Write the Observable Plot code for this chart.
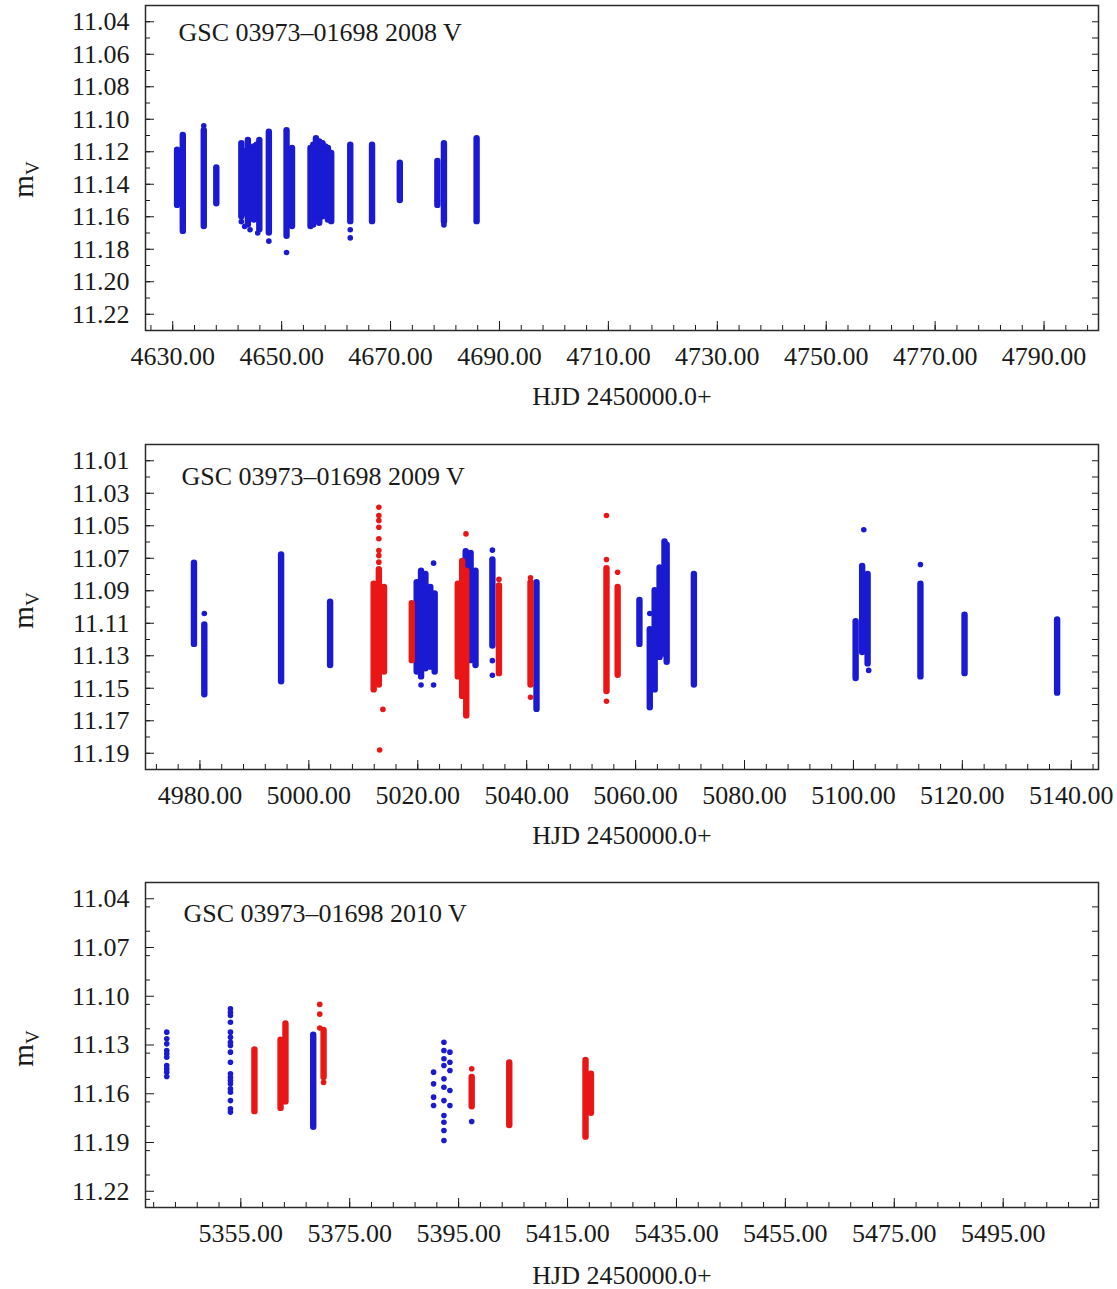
<!DOCTYPE html>
<html>
<head>
<meta charset="utf-8">
<script src="https://cdn.jsdelivr.net/npm/d3@7"></script>
<script src="https://cdn.jsdelivr.net/npm/@observablehq/plot@0.6"></script>
<style>
  body { margin: 0; background: #fff; }
  #chart { width: 1117px; }
  #chart svg { display: block; }
</style>
</head>
<body>
<div id="chart"></div>
<script>
// ---------------------------------------------------------------
// GSC 03973-01698, V-band light curves for three seasons.
// Dense nightly runs are stored as [brightest, faintest] magnitude
// spans per night; isolated measurements are stored as single points.
// ---------------------------------------------------------------

// ----- 2008 season (one instrument) -----
const hjd2008    = [4630.8, 4631.85, 4635.7, 4638.0, 4642.6, 4643.2, 4643.8, 4644.4, 4644.9, 4645.4, 4645.9, 4647.65, 4650.9, 4651.9, 4655.3, 4655.8, 4656.3, 4656.9, 4657.5, 4658.0, 4658.5, 4659.1, 4662.6, 4666.6, 4671.7, 4678.6, 4679.8, 4685.8];
const bright2008 = [11.119, 11.110, 11.107, 11.130, 11.115, 11.120, 11.113, 11.118, 11.117, 11.116, 11.113, 11.108, 11.107, 11.118, 11.118, 11.116, 11.112, 11.114, 11.115, 11.117, 11.118, 11.121, 11.116, 11.116, 11.127, 11.126, 11.115, 11.112];
const faint2008  = [11.153, 11.169, 11.166, 11.152, 11.160, 11.158, 11.165, 11.160, 11.162, 11.158, 11.168, 11.170, 11.172, 11.166, 11.166, 11.165, 11.162, 11.164, 11.160, 11.158, 11.162, 11.163, 11.163, 11.163, 11.150, 11.153, 11.163, 11.163];
const dots2008   = [[4635.7, 11.104], [4642.6, 11.163], [4643.2, 11.166], [4644.2, 11.168], [4645.6, 11.170], [4647.65, 11.175], [4650.9, 11.182], [4662.6, 11.168], [4662.6, 11.173], [4678.6, 11.150], [4679.8, 11.165]];

// ----- 2009 season (two instruments) -----
const hjdBlue2009    = [4978.9, 4980.8, 4994.9, 5003.9, 5019.8, 5020.6, 5021.4, 5022.3, 5023.1, 5028.8, 5029.7, 5030.6, 5033.7, 5041.8, 5060.7, 5062.6, 5063.5, 5064.4, 5065.3, 5065.7, 5070.7, 5100.4, 5101.6, 5102.6, 5112.3, 5120.4, 5137.4];
const brightBlue2009 = [11.073, 11.111, 11.068, 11.097, 11.085, 11.078, 11.080, 11.088, 11.092, 11.066, 11.067, 11.078, 11.071, 11.085, 11.096, 11.114, 11.090, 11.076, 11.060, 11.062, 11.080, 11.109, 11.075, 11.080, 11.086, 11.105, 11.108];
const faintBlue2009  = [11.123, 11.154, 11.146, 11.136, 11.140, 11.143, 11.138, 11.137, 11.140, 11.137, 11.133, 11.136, 11.124, 11.163, 11.123, 11.162, 11.151, 11.131, 11.129, 11.134, 11.148, 11.144, 11.128, 11.135, 11.143, 11.141, 11.153];
const dotsBlue2009   = [[4980.8, 11.104], [5020.6, 11.148], [5022.9, 11.148], [5022.9, 11.073], [5033.7, 11.065], [5033.7, 11.133], [5033.7, 11.142], [5062.6, 11.104], [5101.9, 11.0525], [5102.8, 11.139], [5112.3, 11.0738]];

const hjdRed2009    = [5011.9, 5012.85, 5013.8, 5018.9, 5027.35, 5028.15, 5028.9, 5034.9, 5040.7, 5054.65, 5056.7];
const brightRed2009 = [11.086, 11.077, 11.088, 11.098, 11.086, 11.072, 11.078, 11.087, 11.085, 11.0765, 11.088];
const faintRed2009  = [11.151, 11.148, 11.140, 11.133, 11.143, 11.155, 11.167, 11.141, 11.148, 11.152, 11.142];
const dotsRed2009   = [[5012.85, 11.0386], [5012.85, 11.0437], [5012.85, 11.0468], [5012.85, 11.0509], [5012.85, 11.058], [5012.85, 11.0652], [5012.85, 11.0683], [5012.85, 11.0724], [5013.6, 11.163], [5013.0, 11.188], [5028.85, 11.055], [5034.9, 11.083], [5040.7, 11.082], [5040.7, 11.1555], [5054.65, 11.0437], [5054.65, 11.0708], [5054.65, 11.158], [5056.7, 11.0786]];

// ----- 2010 season (two instruments) -----
const hjdBlue2010    = [5368.3];
const brightBlue2010 = [11.124];
const faintBlue2010  = [11.1806];
const dotsBlue2010   = [
  [5341.4, 11.1221], [5341.4, 11.1262], [5341.4, 11.1293], [5341.4, 11.1334], [5341.4, 11.1354], [5341.4, 11.1375], [5341.4, 11.1426], [5341.4, 11.1447], [5341.4, 11.1467], [5341.4, 11.1494],
  [5353.1, 11.1077], [5353.1, 11.1098], [5353.1, 11.1118], [5353.1, 11.1160], [5353.1, 11.1221], [5353.1, 11.1252], [5353.1, 11.1283], [5353.1, 11.1303], [5353.1, 11.1344], [5353.1, 11.1406],
  [5353.1, 11.1477], [5353.1, 11.1498], [5353.1, 11.1518], [5353.1, 11.1539], [5353.1, 11.1570], [5353.1, 11.1590], [5353.1, 11.1642], [5353.1, 11.1692], [5353.1, 11.1713],
  [5390.4, 11.1467], [5390.4, 11.1539], [5390.4, 11.1621], [5390.4, 11.1672],
  [5392.3, 11.1283], [5392.3, 11.1334], [5392.3, 11.1385], [5392.3, 11.1426], [5392.3, 11.1508], [5392.3, 11.1560], [5392.3, 11.1642], [5392.3, 11.1734], [5392.3, 11.1775], [5392.3, 11.1826], [5392.3, 11.1888],
  [5393.4, 11.1344], [5393.4, 11.1406], [5393.4, 11.1457], [5393.4, 11.1580], [5393.4, 11.1672],
  [5397.4, 11.1771]
];
const hjdRed2010    = [5357.5, 5362.3, 5363.2, 5370.2, 5397.4, 5404.3, 5418.3, 5419.3];
const brightRed2010 = [11.133, 11.127, 11.117, 11.121, 11.150, 11.141, 11.1395, 11.148];
const faintRed2010  = [11.171, 11.169, 11.165, 11.150, 11.168, 11.1795, 11.1867, 11.172];
const dotsRed2010   = [[5369.5, 11.105], [5369.5, 11.111], [5369.5, 11.1195], [5370.2, 11.153], [5397.4, 11.1446]];

// ----- axes -----
const xTicks2008 = [4630, 4650, 4670, 4690, 4710, 4730, 4750, 4770, 4790];
const xTicks2009 = [4980, 5000, 5020, 5040, 5060, 5080, 5100, 5120, 5140];
const xTicks2010 = [5355, 5375, 5395, 5415, 5435, 5455, 5475, 5495];
const yTicks2008 = [11.04, 11.06, 11.08, 11.10, 11.12, 11.14, 11.16, 11.18, 11.20, 11.22];
const yTicks2009 = [11.01, 11.03, 11.05, 11.07, 11.09, 11.11, 11.13, 11.15, 11.17, 11.19];
const yTicks2010 = [11.04, 11.07, 11.10, 11.13, 11.16, 11.19, 11.22];

const titles = ["GSC 03973\u201301698 2008 V", "GSC 03973\u201301698 2009 V", "GSC 03973\u201301698 2010 V"];
const xLabel = "HJD 2450000.0+";

const BLUE = "#1a1ad2";
const RED = "#ea1616";
const INK = "#1a1a1a";
const FONT = "'Liberation Serif', 'Times New Roman', serif";

const spans = (h, b, f) => h.map((t, i) => ({hjd: t, bright: b[i], faint: f[i]}));
const points = (list) => list.map(([t, m]) => ({hjd: t, mag: m}));

function panel(o) {
  const W = 1117, mL = 145, mR = 19, mT = 5, frameH = 325;
  const mB = o.height - mT - frameH;
  const plotW = W - mL - mR;
  const fmt = d3.format(".2f");
  const xMinor = d3.range(o.xMinorStart, o.xDomain[1], 4);
  const yMinor = d3.range(Math.round(o.yDomain[0] * 1000), Math.round(o.yDomain[1] * 1000) + 1, o.yMinorStep * 1000).map(v => v / 1000);

  const layers = [];
  for (const s of o.series) {
    layers.push(Plot.ruleX(s.spans, {x: "hjd", y1: "bright", y2: "faint", stroke: s.color, strokeWidth: 6.4, strokeLinecap: "round"}));
    layers.push(Plot.dot(s.points, {x: "hjd", y: "mag", r: 2.8, fill: s.color, stroke: "none"}));
  }

  const svg = Plot.plot({
    width: W, height: o.height,
    marginLeft: mL, marginRight: mR, marginTop: mT, marginBottom: mB,
    style: {fontFamily: FONT, fontSize: "26px", color: INK, background: "#fff"},
    x: {domain: o.xDomain},
    y: {domain: o.yDomain, reverse: true},
    marks: [
      // inward tick marks on bottom, left and right edges
      Plot.tickX(xMinor, {x: d => d, insetTop: frameH - 5, stroke: INK}),
      Plot.tickX(o.xTicks, {x: d => d, insetTop: frameH - 9, stroke: INK}),
      Plot.tickY(yMinor, {y: d => d, insetRight: plotW - 5, stroke: INK}),
      Plot.tickY(o.yTicks, {y: d => d, insetRight: plotW - 9, stroke: INK}),
      Plot.tickY(yMinor, {y: d => d, insetLeft: plotW - 6, stroke: INK}),
      Plot.axisX({ticks: o.xTicks, tickSize: 0, tickPadding: 16, tickFormat: fmt, label: null, fontSize: 26}),
      Plot.axisY({ticks: o.yTicks, tickSize: 0, tickPadding: 16, tickFormat: fmt, label: null, fontSize: 26}),
      ...layers,
      Plot.frame({stroke: "#2a2a2a", strokeWidth: 1.5}),
      Plot.text([o.title], {frameAnchor: "top-left", dx: o.titleDx, dy: o.titleDy, textAnchor: "start", fontSize: 26, fill: INK}),
      Plot.text([xLabel], {frameAnchor: "bottom", dy: o.labelDy, fontSize: 26, fill: INK})
    ]
  });

  // rotated magnitude label with subscript band letter
  const yc = mT + frameH / 2 + o.mvShift;
  const lab = d3.select(svg).append("text")
    .attr("transform", `translate(33,${yc}) rotate(-90)`)
    .attr("text-anchor", "middle")
    .attr("font-family", FONT)
    .attr("font-size", 29)
    .attr("fill", INK);
  lab.append("tspan").text("m");
  lab.append("tspan").attr("font-size", 19).attr("dy", 6).text("V");

  document.getElementById("chart").append(svg);
}

panel({
  height: 439, xDomain: [4625, 4800], yDomain: [11.03, 11.23], xMinorStart: 4626, yMinorStep: 0.01,
  xTicks: xTicks2008, yTicks: yTicks2008, title: titles[0], titleDx: 33, titleDy: 17, labelDy: 74, mvShift: 12,
  series: [{color: BLUE, spans: spans(hjd2008, bright2008, faint2008), points: points(dots2008)}]
});

panel({
  height: 438, xDomain: [4970, 5145], yDomain: [11.00, 11.20], xMinorStart: 4972, yMinorStep: 0.01,
  xTicks: xTicks2009, yTicks: yTicks2009, title: titles[1], titleDx: 36, titleDy: 22, labelDy: 74, mvShift: 4,
  series: [
    {color: BLUE, spans: spans(hjdBlue2009, brightBlue2009, faintBlue2009), points: points(dotsBlue2009)},
    {color: RED, spans: spans(hjdRed2009, brightRed2009, faintRed2009), points: points(dotsRed2009)}
  ]
});

panel({
  height: 412, xDomain: [5337.5, 5512.5], yDomain: [11.03, 11.23], xMinorStart: 5339, yMinorStep: 0.015,
  xTicks: xTicks2010, yTicks: yTicks2010, title: titles[2], titleDx: 38, titleDy: 21, labelDy: 76, mvShift: 4,
  series: [
    {color: BLUE, spans: spans(hjdBlue2010, brightBlue2010, faintBlue2010), points: points(dotsBlue2010)},
    {color: RED, spans: spans(hjdRed2010, brightRed2010, faintRed2010), points: points(dotsRed2010)}
  ]
});
</script>
</body>
</html>
